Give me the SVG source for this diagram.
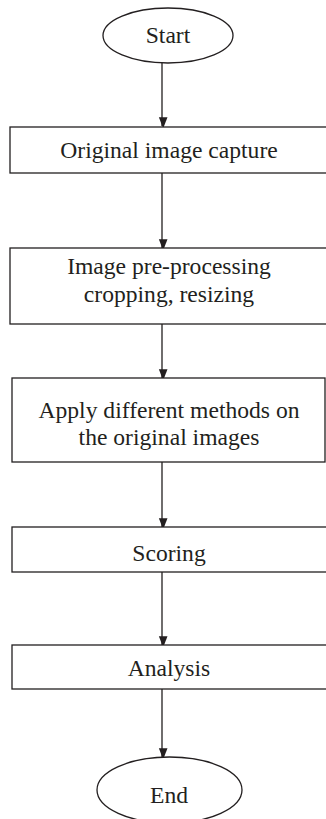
<svg xmlns="http://www.w3.org/2000/svg" width="326" height="819" viewBox="0 0 326 819">
<style>
.shape{fill:#fff;stroke:#231f20;stroke-width:1.3}
.lbl{font-family:"Liberation Serif","Times New Roman",serif;font-size:23.6px;fill:#231f20;text-anchor:middle}
.conn{stroke:#231f20;stroke-width:1.3;fill:none;marker-end:url(#ah)}
</style>
<defs>
<marker id="ah" markerWidth="11" markerHeight="14" refX="11" refY="7" orient="auto" markerUnits="userSpaceOnUse" viewBox="0 0 14 11">
<path d="M0,0 L14,5.5 L0,11 Z" fill="#231f20"/>
</marker>
</defs>
<rect width="326" height="819" fill="#fff"/>
<g id="connectors">
<line class="conn" x1="162" y1="63" x2="162" y2="126"/>
<line class="conn" x1="162" y1="173" x2="162" y2="248"/>
<line class="conn" x1="162" y1="324" x2="162" y2="378"/>
<line class="conn" x1="162" y1="462" x2="162" y2="527"/>
<line class="conn" x1="162" y1="572" x2="162" y2="645"/>
<line class="conn" x1="162" y1="689" x2="162" y2="757"/>
</g>
<g id="start">
<ellipse class="shape" cx="168" cy="35.5" rx="65" ry="27.5"/>
<text class="lbl" x="168" y="43">Start</text>
</g>
<g id="capture">
<rect class="shape" x="10" y="127" width="320" height="46"/>
<text class="lbl" x="169" y="158">Original image capture</text>
</g>
<g id="preprocess">
<rect class="shape" x="10" y="248" width="320" height="76"/>
<text class="lbl" x="169" y="274">Image pre-processing</text>
<text class="lbl" x="169" y="302">cropping, resizing</text>
</g>
<g id="methods">
<rect class="shape" x="12" y="378" width="313" height="84"/>
<text class="lbl" x="169" y="418">Apply different methods on</text>
<text class="lbl" x="169" y="445">the original images</text>
</g>
<g id="scoring">
<rect class="shape" x="12" y="527" width="320" height="45"/>
<text class="lbl" x="169" y="561">Scoring</text>
</g>
<g id="analysis">
<rect class="shape" x="12" y="645" width="320" height="44"/>
<text class="lbl" x="169" y="676">Analysis</text>
</g>
<g id="end">
<ellipse class="shape" cx="169.5" cy="790" rx="72.5" ry="33"/>
<text class="lbl" x="169" y="803">End</text>
</g>
</svg>
